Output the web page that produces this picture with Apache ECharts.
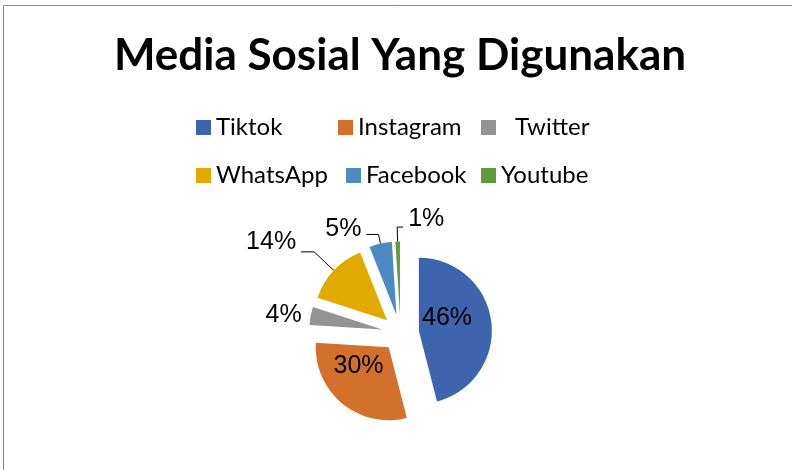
<!DOCTYPE html>
<html><head><meta charset="utf-8">
<script src="https://cdn.jsdelivr.net/npm/echarts@6/dist/echarts.min.js"></script>
<style>html,body{margin:0;padding:0;background:#fff}#c{width:792px;height:470px}</style>
</head><body><div id="c"></div>
<script>
// ---- data ----
const titleText = 'Media Sosial Yang Digunakan';
const categories = ['Tiktok', 'Instagram', 'Twitter', 'WhatsApp', 'Facebook', 'Youtube'];
const values = [46, 30, 4, 14, 5, 1];

// ---- styles / layout ----
const colors = ['#3D64AD', '#D3702C', '#939393', '#E2AA00', '#4D8AC3', '#5E9A3E'];
const legendPos = [[196, 127.5], [338, 127.5], [481, 127.5], [196, 175.5], [346, 175.5], [481, 175.5]];
const legendTextPad = [0, 0, 14, 0, 0, 0];
const labelInside = [true, true, false, false, false, false];
const labelLineShow = [false, false, false, true, true, true];
const lineLen = [0, 0, 2, 27, 9.5, 14.5];
const lineLen2 = [0, 0, 2, 13, 12, 6];
const labelShift = [[-11, -8], [-5, -12], [0, 0], [0, -10], [0, -5.5], [0, -7.5]];
const flipRight = [false, false, false, false, false, true];

const chart = echarts.init(document.getElementById('c'), null, {renderer: 'canvas'});

const pieData = categories.map((name, i) => ({
  name: name,
  value: values[i],
  selected: true,
  itemStyle: {color: colors[i]},
  label: {position: labelInside[i] ? 'inside' : 'outside'},
  labelLine: {show: labelLineShow[i], length: lineLen[i], length2: lineLen2[i]}
}));

const legends = categories.map((name, i) => ({
  data: [name],
  left: legendPos[i][0],
  top: legendPos[i][1] - 12,
  padding: 0,
  icon: 'rect',
  itemWidth: 15,
  itemHeight: 15,
  selectedMode: false,
  textStyle: {
    fontFamily: 'Lato', fontSize: 24, color: '#000',
    padding: [0, 0, 0, legendTextPad[i]]
  }
}));

chart.setOption({
  animation: false,
  backgroundColor: '#fff',
  graphic: [
    {type: 'rect', shape: {x: 3.5, y: 5.5, width: 820, height: 500},
     style: {fill: 'none', stroke: '#8a8a8a', lineWidth: 1}, silent: true},
    {type: 'text', x: 400, y: 56,
     style: {text: titleText, align: 'center', verticalAlign: 'middle',
             font: 'bold 44px Lato', fill: '#000'}}
  ],
  legend: legends,
  series: [{
    type: 'pie',
    center: [400.5, 333],
    radius: [0, 73],
    startAngle: 90,
    clockwise: true,
    selectedMode: 'multiple',
    selectedOffset: 18.5,
    avoidLabelOverlap: false,
    emphasis: {disabled: true},
    select: {itemStyle: {}, label: {}},
    label: {
      show: true,
      formatter: '{d}%',
      fontFamily: 'Liberation Sans, Arial',
      fontSize: 25,
      color: '#000',
      distanceToLabelLine: 5
    },
    labelLine: {lineStyle: {color: '#000', width: 1}, smooth: false},
    labelLayout: function (p) {
      const i = p.dataIndex;
      const out = {dx: labelShift[i][0], dy: labelShift[i][1]};
      if (flipRight[i] && p.labelLinePoints) {
        const pts = p.labelLinePoints;
        const p2 = pts[1];
        out.labelLinePoints = [pts[0], p2, [p2[0] + lineLen2[i], p2[1]]];
        out.dx = 2 * (lineLen2[i] + 5) + labelShift[i][0];
        out.align = 'left';
      }
      return out;
    },
    data: pieData
  }]
});
</script></body></html>
